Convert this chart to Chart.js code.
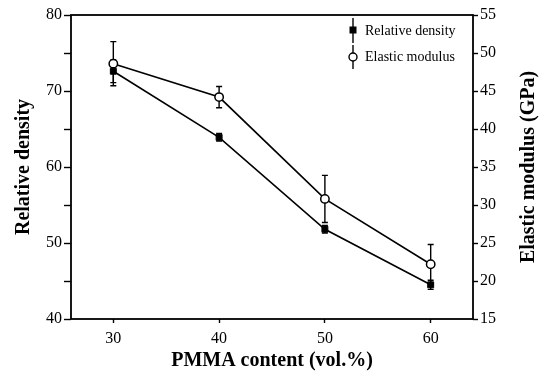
<!DOCTYPE html>
<html>
<head>
<meta charset="utf-8">
<script src="https://cdn.jsdelivr.net/npm/chart.js@4.4.1/dist/chart.umd.min.js"></script>
<style>
	html, body { margin: 0; padding: 0; background: #ffffff; }
	canvas { display: block; }
</style>
</head>
<body>
<canvas id="pmmaChart" width="545" height="373"></canvas>
<script>
// values
const pmmaContent = [30, 40, 50, 60];
const relDensity = [72.6, 63.9, 51.8, 44.5];
const relDensityErr = [1.5, 0.5, 0.5, 0.6];
const elasticModulus = [48.6, 44.2, 30.8, 22.2];
const elasticModulusErr = [2.9, 1.4, 3.1, 2.6];

const xTicks = [30, 40, 50, 60];
const leftTicks = [40, 45, 50, 55, 60, 65, 70, 75, 80];
const rightTicks = [15, 17.5, 20, 22.5, 25, 27.5, 30, 32.5, 35, 37.5, 40, 42.5, 45, 47.5, 50, 52.5, 55];

const serif = '"Liberation Serif", "Times New Roman", serif';

const toPoints = (xs, ys) => xs.map((x, i) => ({ x: x, y: ys[i] }));

// vertical error bars with caps, drawn under the markers
const errorBars = {
	id: 'errorBars',
	beforeDatasetsDraw (chart) {
		const ctx = chart.ctx;
		const xScale = chart.scales.x;
		const sets = [
			{ axis: 'y', vals: relDensity, errs: relDensityErr },
			{ axis: 'y2', vals: elasticModulus, errs: elasticModulusErr },
		];
		ctx.save();
		ctx.strokeStyle = '#000';
		ctx.lineWidth = 1.4;
		sets.forEach(set => {
			const yScale = chart.scales[set.axis];
			set.vals.forEach((v, i) => {
				const px = xScale.getPixelForValue(pmmaContent[i]);
				const top = yScale.getPixelForValue(v + set.errs[i]);
				const bot = yScale.getPixelForValue(v - set.errs[i]);
				ctx.beginPath();
				ctx.moveTo(px, top);
				ctx.lineTo(px, bot);
				ctx.moveTo(px - 3, top);
				ctx.lineTo(px + 3, top);
				ctx.moveTo(px - 3, bot);
				ctx.lineTo(px + 3, bot);
				ctx.stroke();
			});
		});
		ctx.restore();
	},
};

// frame, right axis title and the legend
const decorations = {
	id: 'decorations',
	afterDraw (chart) {
		const ctx = chart.ctx;
		const area = chart.chartArea;
		ctx.save();
		ctx.strokeStyle = '#000';
		ctx.lineWidth = 1.8;
		ctx.strokeRect(area.left, area.top, area.right - area.left, area.bottom - area.top);

		ctx.fillStyle = '#000';
		ctx.font = 'bold 20px ' + serif;
		ctx.textAlign = 'center';
		ctx.textBaseline = 'middle';
		ctx.translate(529, (area.top + area.bottom) / 2);
		ctx.rotate(-Math.PI / 2);
		ctx.fillText('Elastic modulus (GPa)', 0, 0);
		ctx.restore();

		ctx.save();
		ctx.strokeStyle = '#000';
		ctx.fillStyle = '#000';
		ctx.lineWidth = 1.4;
		const mx = 353;
		// row 1: filled square
		ctx.beginPath();
		ctx.moveTo(mx, 18);
		ctx.lineTo(mx, 43);
		ctx.stroke();
		ctx.fillRect(mx - 3.5, 26.5, 7, 7);
		// row 2: open circle
		ctx.beginPath();
		ctx.moveTo(mx, 45);
		ctx.lineTo(mx, 69);
		ctx.stroke();
		ctx.beginPath();
		ctx.arc(mx, 57, 4, 0, Math.PI * 2);
		ctx.fillStyle = '#fff';
		ctx.fill();
		ctx.stroke();

		ctx.fillStyle = '#000';
		ctx.font = '14px ' + serif;
		ctx.textAlign = 'left';
		ctx.textBaseline = 'middle';
		ctx.fillText('Relative density', 365, 31);
		ctx.fillText('Elastic modulus', 365, 57);
		ctx.restore();
	},
};

const tickFont = { family: serif, size: 16 };
const titleFont = { family: serif, size: 20, weight: 'bold' };

const ctx = document.getElementById('pmmaChart').getContext('2d');
const pmmaChart = new Chart(ctx, {
	type: 'line',
	data: {
		datasets: [{
			label: 'Relative density',
			data: toPoints(pmmaContent, relDensity),
			yAxisID: 'y',
			borderColor: '#000',
			borderWidth: 1.6,
			backgroundColor: '#000',
			pointStyle: 'rect',
			pointRadius: 4.2,
			pointBorderWidth: 1,
			pointBorderColor: '#000',
			pointBackgroundColor: '#000',
			fill: false,
			tension: 0,
		}, {
			label: 'Elastic modulus',
			data: toPoints(pmmaContent, elasticModulus),
			yAxisID: 'y2',
			borderColor: '#000',
			borderWidth: 1.6,
			pointStyle: 'circle',
			pointRadius: 4.2,
			pointBorderWidth: 1.5,
			pointBorderColor: '#000',
			pointBackgroundColor: '#fff',
			fill: false,
			tension: 0,
		}],
	},
	options: {
		responsive: false,
		animation: false,
		layout: { padding: { top: 15, left: 0, right: 0, bottom: 0 } },
		plugins: {
			legend: { display: false },
			tooltip: { enabled: false },
		},
		scales: {
			x: {
				type: 'linear',
				min: 26,
				max: 64,
				afterBuildTicks: s => { s.ticks = xTicks.map(v => ({ value: v })); },
				afterFit: s => { s.height = 54; },
				grid: { drawOnChartArea: false, drawTicks: true, tickLength: 4, color: '#000', tickWidth: 1.4 },
				border: { display: false },
				ticks: { color: '#000', font: tickFont, padding: 6, maxRotation: 0 },
				title: { display: true, text: 'PMMA content (vol.%)', color: '#000', font: titleFont, padding: { top: 0, bottom: 0 } },
			},
			y: {
				type: 'linear',
				position: 'left',
				min: 40,
				max: 80,
				afterBuildTicks: s => { s.ticks = leftTicks.map(v => ({ value: v })); },
				afterFit: s => { s.width = 71; },
				grid: { drawOnChartArea: false, drawTicks: true, tickLength: 7, color: '#000', tickWidth: 1.4 },
				border: { display: false },
				ticks: {
					color: '#000',
					font: tickFont,
					padding: 2,
					callback: v => (v % 10 === 0 ? String(v) : ''),
				},
				title: { display: true, text: 'Relative density', color: '#000', font: titleFont, padding: { top: 12, bottom: 0 } },
			},
			y2: {
				type: 'linear',
				position: 'right',
				min: 15,
				max: 55,
				afterBuildTicks: s => { s.ticks = rightTicks.map(v => ({ value: v })); },
				afterFit: s => { s.width = 72; },
				grid: { drawOnChartArea: false, drawTicks: true, tickLength: 5, color: '#000', tickWidth: 1.4 },
				border: { display: false },
				ticks: {
					color: '#000',
					font: tickFont,
					padding: 2,
					callback: v => (v % 5 === 0 ? String(v) : ''),
				},
			},
		},
	},
	plugins: [errorBars, decorations],
});
</script>
</body>
</html>
